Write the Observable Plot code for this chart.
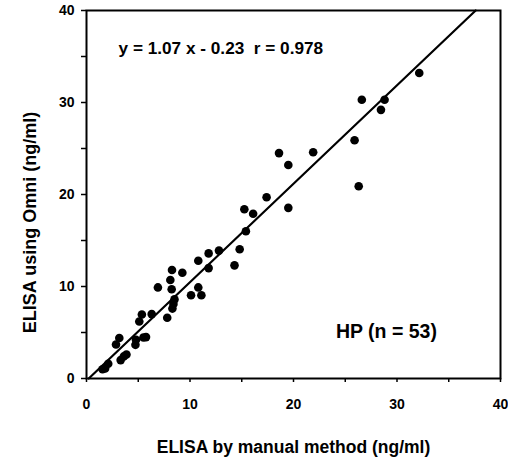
<!DOCTYPE html>
<html>
<head>
<meta charset="utf-8">
<script src="https://cdn.jsdelivr.net/npm/d3@7"></script>
<script src="https://cdn.jsdelivr.net/npm/@observablehq/plot@0.6"></script>
<style>
  html, body { margin: 0; padding: 0; background: #fff; }
  #chart svg { display: block; }
</style>
</head>
<body>
<div id="chart"></div>
<script>
// Manual ELISA (x) vs ELISA using Omni (y), ng/ml
const manual = [32.15, 26.6, 28.8, 28.45, 25.9, 26.3, 21.9, 19.5, 18.6, 17.4, 19.5, 15.25, 16.1, 15.4, 14.8, 14.3, 12.8, 11.8, 10.8, 11.8, 8.26, 9.26, 8.1, 6.9, 8.23, 10.8, 10.1, 11.1, 8.5, 8.4, 8.3, 7.8, 6.3, 5.35, 5.1, 5.75, 5.5, 4.78, 4.73, 3.17, 2.85, 3.86, 3.6, 3.3, 2.1, 1.8, 1.55];
const omni   = [33.2, 30.3, 30.3, 29.2, 25.9, 20.9, 24.6, 23.2, 24.5, 19.7, 18.55, 18.4, 17.9, 16.0, 14.05, 12.3, 13.9, 13.6, 12.8, 12.0, 11.8, 11.5, 10.7, 9.9, 9.7, 9.9, 9.05, 9.05, 8.6, 8.1, 7.6, 6.6, 7.0, 6.95, 6.2, 4.5, 4.45, 4.2, 3.66, 4.4, 3.7, 2.6, 2.4, 2.0, 1.6, 1.1, 1.0];

// Regression line endpoints (x), from y = 1.07 x - 0.23
const slope = 1.07;
const intercept = -0.23;
const lineX = [0.215, 37.6];

const xTicks = [0, 5, 10, 15, 20, 25, 30, 35, 40];
const yTicks = [0, 5, 10, 15, 20, 25, 30, 35, 40];
const labelTicks = [0, 10, 20, 30, 40];

const equationText = "y = 1.07 x - 0.23  r = 0.978";
const groupText = "HP (n = 53)";
const xLabel = "ELISA by manual method (ng/ml)";
const yLabel = "ELISA using Omni (ng/ml)";

const points = manual.map((x, i) => ({x, y: omni[i]}));
const linePts = lineX.map(x => ({x, y: slope * x + intercept}));

const fmt = d => labelTicks.includes(d) ? String(d) : "";

const chart = Plot.plot({
  width: 508,
  height: 457,
  marginLeft: 86,
  marginRight: 8,
  marginTop: 10,
  marginBottom: 79,
  style: {fontFamily: "'Liberation Sans', Arial, sans-serif", fontWeight: "bold", color: "#000", background: "#fff"},
  x: {domain: [0, 40]},
  y: {domain: [0, 40]},
  marks: [
    Plot.axisX({ticks: xTicks, tickFormat: fmt, tickSize: 4, tickPadding: 17, fontSize: 14, label: null, strokeWidth: 1.5}),
    Plot.axisY({ticks: yTicks, tickFormat: fmt, tickSize: 5, tickPadding: 7, fontSize: 14, label: null, strokeWidth: 1.5}),
    Plot.frame({stroke: "#000", strokeWidth: 2}),
    Plot.line(linePts, {x: "x", y: "y", stroke: "#000", strokeWidth: 2.2}),
    Plot.dot(points, {x: "x", y: "y", r: 4.3, fill: "#000", stroke: "none"}),
    Plot.text([equationText], {x: 3.1, y: 35.9, text: d => d, textAnchor: "start", fontSize: 17.2, fill: "#000"}),
    Plot.text([groupText], {x: 24.1, y: 5.1, text: d => d, textAnchor: "start", fontSize: 19.5, fill: "#000"}),
    Plot.text([xLabel], {frameAnchor: "bottom", dy: 74, text: d => d, fontSize: 17.5, fill: "#000"}),
    Plot.text([yLabel], {frameAnchor: "left", textAnchor: "middle", dx: -56, dy: 28, rotate: -90, text: d => d, fontSize: 18, fill: "#000", letterSpacing: "3.7px"})
  ]
});

document.getElementById("chart").appendChild(chart);
</script>
</body>
</html>
